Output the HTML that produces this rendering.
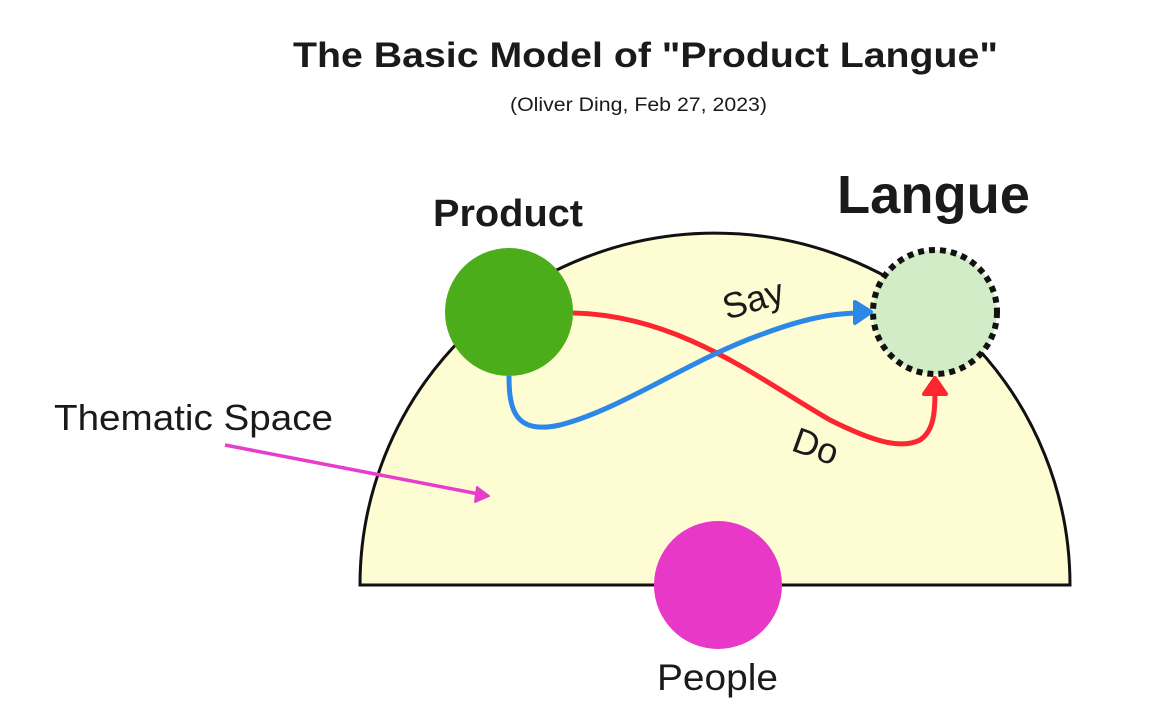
<!DOCTYPE html>
<html><head><meta charset="utf-8"><style>
html,body{margin:0;padding:0;background:#fff;}
svg{display:block;font-family:"Liberation Sans",sans-serif;}
</style></head><body>
<svg width="1150" height="724" viewBox="0 0 1150 724" xmlns="http://www.w3.org/2000/svg">
<text x="293" y="67" font-size="35" font-weight="bold" fill="#1a1a1a" textLength="705" lengthAdjust="spacingAndGlyphs">The Basic Model of "Product Langue"</text>
<text x="510" y="111" font-size="19" fill="#1a1a1a" textLength="257" lengthAdjust="spacingAndGlyphs">(Oliver Ding, Feb 27, 2023)</text>
<text x="433" y="226" font-size="38" font-weight="bold" fill="#1a1a1a" textLength="150" lengthAdjust="spacingAndGlyphs">Product</text>
<text x="837" y="213" font-size="54" font-weight="bold" fill="#1a1a1a" textLength="193" lengthAdjust="spacingAndGlyphs">Langue</text>
<path d="M360 585 A355 352 0 0 1 1070 585 Z" fill="#fdfcd3" stroke="#111" stroke-width="3"/>
<text x="54" y="430" font-size="36" fill="#1a1a1a" textLength="279" lengthAdjust="spacingAndGlyphs">Thematic Space</text>
<line x1="225" y1="445" x2="484" y2="495" stroke="#e83ccc" stroke-width="3.5"/>
<path d="M477 487 L489 496 L475 502 Z" fill="#e83ccc" stroke="#e83ccc" stroke-width="2" stroke-linejoin="round"/>
<circle cx="509" cy="312" r="64" fill="#4aad19"/>
<circle cx="935" cy="312" r="62" fill="#d3ecc8" stroke="#111" stroke-width="6" stroke-dasharray="6 5"/>
<path d="M573 313 C680 315 760 380 830 420 C870 440 900 450 920 440 C935 430 935 410 935 385" fill="none" stroke="#fc2631" stroke-width="5"/>
<path d="M924 394 L935 378 L946 394 Z" fill="#fc2631" stroke="#fc2631" stroke-width="4" stroke-linejoin="round"/>
<path d="M509 376 C509 410 515 435 560 425 C620 410 690 360 760 335 C800 320 830 313 860 313" fill="none" stroke="#2b88e6" stroke-width="5"/>
<path d="M855 302 L871 312 L855 323 Z" fill="#2b88e6" stroke="#2b88e6" stroke-width="4" stroke-linejoin="round"/>
<text x="0" y="0" font-size="36" fill="#1a1a1a" transform="translate(727 320) rotate(-17)">Say</text>
<text x="0" y="0" font-size="36" fill="#1a1a1a" transform="translate(790 450) rotate(20)">Do</text>
<circle cx="718" cy="585" r="64" fill="#e838c8"/>
<text x="657" y="690" font-size="37" fill="#1a1a1a" textLength="121" lengthAdjust="spacingAndGlyphs">People</text>
</svg>
</body></html>
